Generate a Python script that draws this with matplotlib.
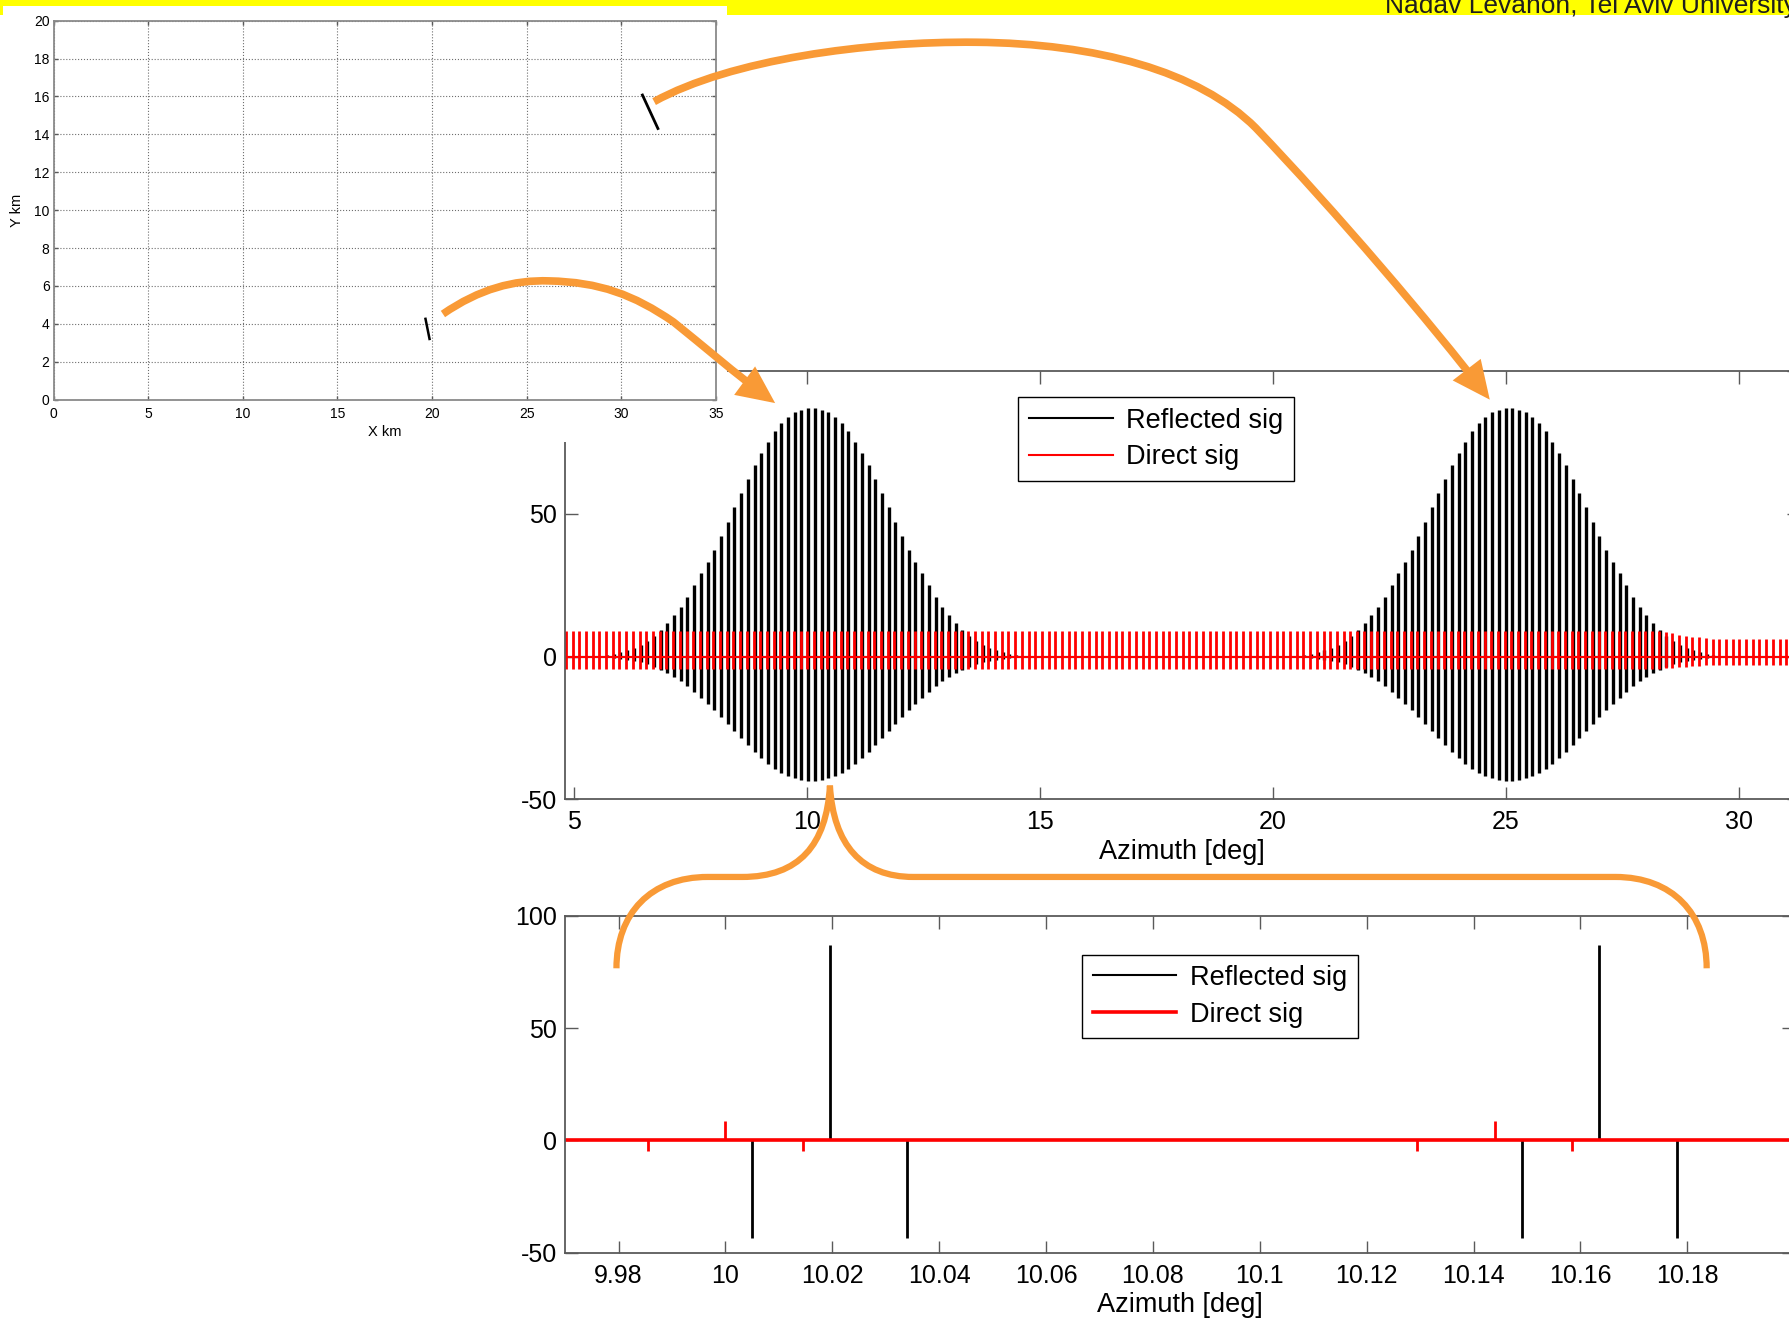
import numpy as np
import matplotlib
matplotlib.use("Agg")
import matplotlib.pyplot as plt
from matplotlib.path import Path
from matplotlib.patches import PathPatch, FancyArrowPatch, Rectangle

plt.rcParams['font.family'] = ['Liberation Sans', 'DejaVu Sans']

# ---------------- dados ----------------
# mapa (canto superior esquerdo)
map_xticks = [0, 5, 10, 15, 20, 25, 30, 35]
map_yticks = [0, 2, 4, 6, 8, 10, 12, 14, 16, 18, 20]
target1_x = [19.64, 19.88]
target1_y = [4.33, 3.14]
target2_x = [31.09, 31.97]
target2_y = [16.14, 14.24]

# varredura completa (painel do meio)
pri_deg = 0.144                 # espacamento entre pulsos
direct_first_az = 4.816         # primeiro pulso do sinal direto
direct_up = [9.0] * 163 + [8.8, 8.5, 8.1, 7.7, 7.3, 7.0, 6.7, 6.5, 6.3, 6.2, 6.2,
                           6.1, 6.1, 6.1, 6.1, 6.1, 6.1, 6.1, 6.1, 6.1, 6.1]
direct_dn = [4.4] * 163 + [4.3, 4.1, 3.9, 3.7, 3.5, 3.3, 3.2, 3.1, 3.0, 3.0, 2.9,
                           2.9, 2.9, 2.9, 2.9, 2.9, 2.9, 2.9, 2.9, 2.9, 2.9]
# envelope de cada lobulo do eco (pico positivo e negativo de cada pulso)
refl_up = [0.6, 1.0, 1.5, 2.2, 3.0, 4.1, 5.5, 7.2, 9.3, 11.7, 14.4, 17.4, 21.0, 25.0,
           29.1, 33.2, 37.4, 42.2, 47.2, 52.3, 57.4, 62.3, 67.0, 71.3, 75.3, 79.0,
           81.8, 84.0, 85.6, 86.5, 87.0, 87.0, 86.5, 85.6, 84.0, 81.8, 79.0, 75.3,
           71.3, 67.0, 62.3, 57.4, 52.3, 47.2, 42.2, 37.4, 33.2, 29.1, 25.0, 21.0,
           17.4, 14.4, 11.7, 9.3, 7.2, 5.5, 4.1, 3.0, 2.2, 1.5, 1.0, 0.6]
refl_dn = [0.3, 0.5, 0.8, 1.1, 1.5, 2.0, 2.7, 3.6, 4.6, 5.8, 7.2, 8.7, 10.5, 12.5,
           14.5, 16.6, 18.7, 21.1, 23.6, 26.1, 28.7, 31.1, 33.5, 35.6, 37.6, 39.5,
           40.9, 42.0, 42.7, 43.2, 43.5, 43.5, 43.2, 42.7, 42.0, 40.9, 39.5, 37.6,
           35.6, 33.5, 31.1, 28.7, 26.1, 23.6, 21.1, 18.7, 16.6, 14.5, 12.5, 10.5,
           8.7, 7.2, 5.8, 4.6, 3.6, 2.7, 2.0, 1.5, 1.1, 0.8, 0.5, 0.3]
lobe_first_az = [5.6995, 20.6755]
mid_xticks = [5, 10, 15, 20, 25, 30]
mid_yticks = [-50, 0, 50, 100]

# zoom (painel de baixo)
zoom_refl_az = [10.005, 10.0195, 10.034, 10.149, 10.1635, 10.178]
zoom_refl_amp = [-43.5, 87.0, -43.5, -43.5, 87.0, -43.5]
zoom_direct_az = [9.9855, 10.0, 10.0145, 10.1295, 10.144, 10.1585]
zoom_direct_amp = [-4.6, 8.8, -4.6, -4.6, 8.8, -4.6]
zoom_xticks = [9.98, 10.0, 10.02, 10.04, 10.06, 10.08, 10.1, 10.12, 10.14, 10.16, 10.18]
zoom_xlabels = ['9.98', '10', '10.02', '10.04', '10.06', '10.08', '10.1',
                '10.12', '10.14', '10.16', '10.18']

orange = '#F99A36'
spine_c = '#5a5a5a'

fig = plt.figure(figsize=(17.9, 13.2), dpi=100)

# faixa amarela do slide
fig.add_artist(Rectangle((0, 1 - 15 / 1320), 1, 15 / 1320, transform=fig.transFigure,
                         facecolor='#ffff00', edgecolor='none', zorder=-1))
fig.text(0.7737, 1 - 13 / 1320, 'Nadav Levanon, Tel Aviv University', fontsize=19,
         color='#1e1e1e', ha='left', va='baseline')


def estilo(ax, fs, pad_x, pad_y, length):
    for s in ax.spines.values():
        s.set_color(spine_c)
        s.set_linewidth(1.3)
    ax.tick_params(which='both', direction='in', top=True, right=True,
                   length=length, width=1, colors=spine_c, labelcolor='black',
                   labelsize=fs)
    ax.tick_params(axis='x', pad=pad_x)
    ax.tick_params(axis='y', pad=pad_y)


def legenda(ax, x0, y0):
    leg = ax.legend(loc='upper left', bbox_to_anchor=(x0 / 1568, 1 - y0 / 1156),
                    bbox_transform=fig.transFigure, borderaxespad=0, fontsize=19.5,
                    fancybox=False, edgecolor='black', framealpha=1, borderpad=0.38,
                    labelspacing=0.4, handlelength=3.1, handletextpad=0.5)
    leg.get_frame().set_linewidth(1.0)


# ---------------- painel do meio ----------------
ax_m = fig.add_axes([0.3157, 0.3945, 0.6894, 0.3244])
ax_m.axhline(0, color='black', lw=1.5, label='Reflected sig')
for first in lobe_first_az:
    az = first + pri_deg * np.arange(len(refl_up))
    ax_m.vlines(az, -np.array(refl_dn), refl_up, color='black', lw=2.4)
direct_az = direct_first_az + pri_deg * np.arange(len(direct_up))
ax_m.vlines(direct_az, -np.array(direct_dn), direct_up, color='red', lw=2.0)
ax_m.axhline(0, color='red', lw=1.5, label='Direct sig')
ax_m.set_xlim(4.8, 31.3)
ax_m.set_ylim(-50, 100)
ax_m.set_xticks(mid_xticks)
ax_m.set_xticklabels([str(v) for v in mid_xticks])
ax_m.set_yticks(mid_yticks)
ax_m.set_yticklabels([str(v) for v in mid_yticks])
estilo(ax_m, 18, 8, 6, 9)
ax_m.set_xlabel('Azimuth [deg]', fontsize=19.5, labelpad=3)
legenda(ax_m, 892, 348)

# ---------------- painel de baixo ----------------
ax_b = fig.add_axes([0.3157, 0.0510, 0.6866, 0.2552])
ax_b.axhline(0, color='black', lw=1.5, label='Reflected sig')
ax_b.vlines(zoom_refl_az, 0, zoom_refl_amp, color='black', lw=2.0)
ax_b.vlines(zoom_direct_az, 0, zoom_direct_amp, color='red', lw=2.0)
ax_b.axhline(0, color='red', lw=2.6, label='Direct sig')
ax_b.set_xlim(9.97, 10.2)
ax_b.set_ylim(-50, 100)
ax_b.set_xticks(zoom_xticks)
ax_b.set_xticklabels(zoom_xlabels)
ax_b.set_yticks(mid_yticks)
ax_b.set_yticklabels([str(v) for v in mid_yticks])
estilo(ax_b, 18, 8, 6, 9)
ax_b.set_xlabel('Azimuth [deg]', fontsize=19.5, labelpad=3)
legenda(ax_b, 948, 836)

# ---------------- quadro branco + mapa ----------------
ax_w = fig.add_axes([0.0017, 0.6652, 0.4045, 0.3303])
ax_w.set_zorder(1)
ax_w.set_xticks([])
ax_w.set_yticks([])
for s in ax_w.spines.values():
    s.set_visible(False)

ax_t = fig.add_axes([0.0300, 0.6972, 0.3699, 0.2872])
ax_t.set_zorder(2)
ax_t.plot(target1_x, target1_y, color='black', lw=1.8, solid_capstyle='butt')
ax_t.plot(target2_x, target2_y, color='black', lw=2.0, solid_capstyle='butt')
ax_t.set_xlim(0, 35)
ax_t.set_ylim(0, 20)
ax_t.set_xticks(map_xticks)
ax_t.set_yticks(map_yticks)
ax_t.grid(True, ls=':', color='#6e6e6e', lw=0.8)
estilo(ax_t, 10, 5, 3, 3)
for s in ax_t.spines.values():
    s.set_color('#8a8a8a')
ax_t.set_xlabel('X km', fontsize=10.5, labelpad=3)
ax_t.set_ylabel('Y km', fontsize=10.5, labelpad=7)

# ---------------- setas laranja ----------------
ax_o = fig.add_axes([0, 0, 1, 1])
ax_o.set_zorder(5)
ax_o.set_xlim(0, 1568)
ax_o.set_ylim(1156, 0)
ax_o.axis('off')

M, C, L = Path.MOVETO, Path.CURVE4, Path.LINETO
seta_a = Path([(573, 89), (640, 52), (760, 36), (855, 37),
               (960, 38), (1050, 62), (1100, 112),
               (1170, 185), (1255, 285), (1305, 350)],
              [M, C, C, C, C, C, C, C, C, C])
seta_b = Path([(388, 275), (420, 253), (450, 245), (481, 246),
               (525, 247), (555, 258), (590, 282),
               (615, 302), (645, 328), (679, 353)],
              [M, C, C, C, C, C, C, C, C, C])
for p in (seta_a, seta_b):
    ax_o.add_patch(FancyArrowPatch(path=p, arrowstyle='-|>,head_length=0.9,head_width=0.42',
                                   mutation_scale=20, color=orange, lw=5.5,
                                   capstyle='butt', joinstyle='miter'))

chave = Path([(540, 848), (540, 800), (570, 768), (620, 768),
              (650, 768),
              (700, 768), (724, 740), (727, 688),
              (730, 740), (755, 768), (800, 768),
              (1415, 768),
              (1465, 768), (1495, 800), (1495, 848)],
             [M, C, C, C, L, C, C, C, C, C, C, L, C, C, C])
ax_o.add_patch(PathPatch(chave, fill=False, edgecolor=orange, lw=4.5, capstyle='butt'))

plt.savefig('out.png', dpi=100)
plt.close()
